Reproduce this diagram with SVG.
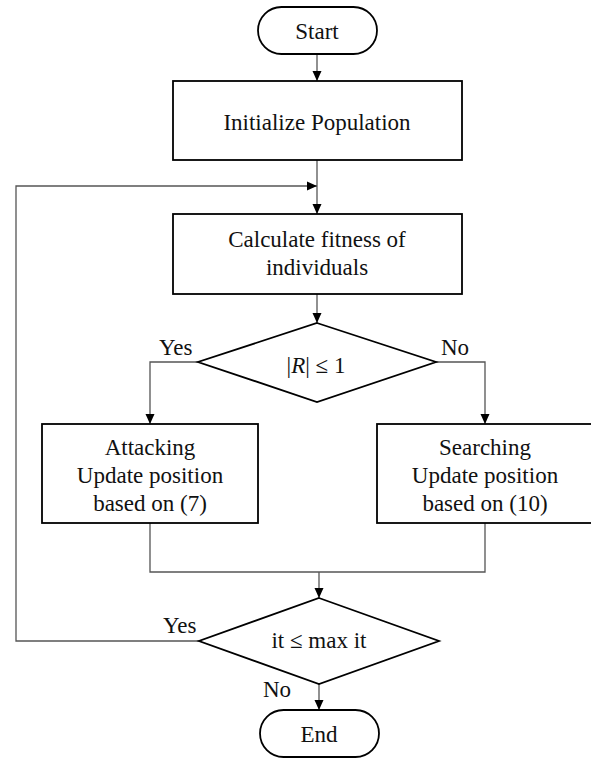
<svg xmlns="http://www.w3.org/2000/svg" width="591" height="758" viewBox="0 0 591 758">
<style>
.n{fill:#fff;stroke:#000;stroke-width:1.8}
.c{fill:none;stroke:#555;stroke-width:1.3}
text{font-family:'Liberation Serif','Times New Roman',Tinos,'DejaVu Serif',serif;font-size:23px;fill:#111}
.t{text-anchor:middle}
</style>
<defs>
<marker id="ah" markerUnits="userSpaceOnUse" markerWidth="10" markerHeight="10" viewBox="0 0 10 10" refX="10" refY="5" orient="auto">
<path d="M0,0.5 L10,5 L0,9.5 Z" fill="#000"/>
</marker>
</defs>
<rect width="591" height="758" fill="#fff"/>
<g id="connectors">
<path class="c" d="M317,54 V81" marker-end="url(#ah)"/>
<path class="c" d="M317,160 V214" marker-end="url(#ah)"/>
<path class="c" d="M199,641 H16 V186 H317" marker-end="url(#ah)"/>
<path class="c" d="M317,294 V323" marker-end="url(#ah)"/>
<path class="c" d="M198,362 H150 V424" marker-end="url(#ah)"/>
<path class="c" d="M436,362 H485 V424" marker-end="url(#ah)"/>
<path class="c" d="M150,523 V572 H485 V523"/>
<path class="c" d="M319,572 V598" marker-end="url(#ah)"/>
<path class="c" d="M319,684 V710" marker-end="url(#ah)"/>
<text x="159" y="355">Yes</text>
<text x="441" y="355">No</text>
<text x="163" y="633">Yes</text>
<text x="263" y="697">No</text>
</g>
<g id="start">
<rect class="n" x="258" y="7" width="119" height="47" rx="23.5"/>
<text class="t" x="317" y="39">Start</text>
</g>
<g id="init">
<rect class="n" x="173" y="81" width="289" height="79"/>
<text class="t" x="317" y="130">Initialize Population</text>
</g>
<g id="fitness">
<rect class="n" x="173" y="214" width="289" height="80"/>
<text class="t" x="317" y="247">Calculate fitness of</text>
<text class="t" x="317" y="275">individuals</text>
</g>
<g id="decision1">
<polygon class="n" points="317,323 436,362 317,402 198,362"/>
<text class="t" x="316" y="373">|<tspan font-style="italic">R</tspan>| ≤ 1</text>
</g>
<g id="attacking">
<rect class="n" x="42" y="424" width="216" height="99"/>
<text class="t" x="150" y="455">Attacking</text>
<text class="t" x="150" y="483">Update position</text>
<text class="t" x="150" y="511">based on (7)</text>
</g>
<g id="searching">
<rect class="n" x="377" y="424" width="216" height="99"/>
<text class="t" x="485" y="455">Searching</text>
<text class="t" x="485" y="483">Update position</text>
<text class="t" x="485" y="511">based on (10)</text>
</g>
<g id="decision2">
<polygon class="n" points="319,598 439,641 319,684 199,641"/>
<text class="t" x="319" y="648">it ≤ max it</text>
</g>
<g id="end">
<rect class="n" x="260" y="710" width="119" height="47" rx="23.5"/>
<text class="t" x="319" y="742">End</text>
</g>
</svg>
